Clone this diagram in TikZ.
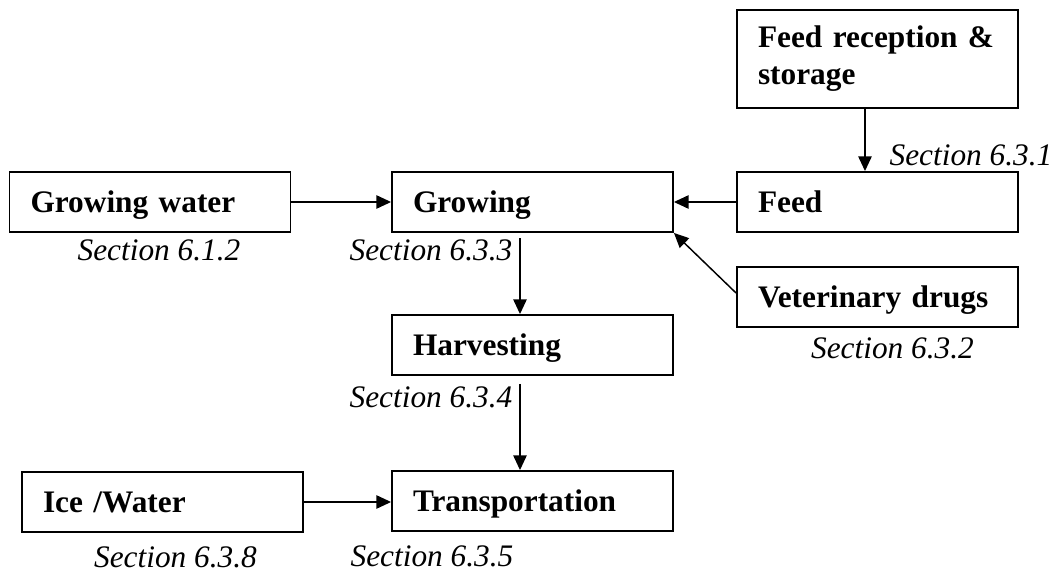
\documentclass[tikz,border=0pt]{standalone}
\usepackage{fontspec}
\setmainfont{Liberation Serif}
\usetikzlibrary{arrows.meta,calc}
\begin{document}
\begin{tikzpicture}[x=0.75pt,y=-0.75pt,
  stepbox/.style={draw=black,line width=1.4pt,minimum height=45pt,
    text width=179.25pt,inner xsep=15.75pt,align=left,
    text height=19.6pt,text depth=4.1pt,
    font=\bfseries\fontsize{23.5}{27.75}\selectfont},
  seclabel/.style={inner sep=0pt,font=\itshape\fontsize{23.5}{27.75}\selectfont},
  arr/.style={line width=1.1pt,-{Triangle[length=11pt,width=10pt]}}]
\useasboundingbox (0,0) rectangle (1058,574);
% boxes
\node[stepbox,minimum height=73.5pt,text height=,text depth=] (fr) at (877.5,59) {\mbox{Feed reception \&}\\storage};
\node[stepbox] (gw) at (150,202) {Growing water};
\node[stepbox] (grow) at (532.5,202) {Growing};
\node[stepbox] (feed) at (877.5,202) {Feed};
\node[stepbox] (vet) at (877.5,297) {Veterinary drugs};
\node[stepbox] (harv) at (532.5,345) {Harvesting};
\node[stepbox] (trans) at (532.5,501) {Transportation};
\node[stepbox] (ice) at (162.5,502) {Ice /Water};
% section labels
\node[seclabel] (s631) at (971,155) {Section 6.3.1};
\node[seclabel] (s612) at (159,250) {Section 6.1.2};
\node[seclabel] (s633) at (431,250) {Section 6.3.3};
\node[seclabel] (s632) at (892.5,348) {Section 6.3.2};
\node[seclabel] (s634) at (431,397) {Section 6.3.4};
\node[seclabel] (s638) at (175.5,557) {Section 6.3.8};
\node[seclabel] (s635) at (432,556) {Section 6.3.5};
% guide coordinates
\coordinate (cf) at (865,0);
\coordinate (cv) at (520,0);
% connectors
\draw[arr] (fr.south -| cf) -- (feed.north -| cf);
\draw[arr] (gw.east) -- (grow.west);
\draw[arr] (feed.west) -- (grow.east);
\draw[arr] ([yshift=3pt]vet.west) -- (grow.south east);
\draw[arr,shorten <=4pt] (grow.south -| cv) -- (harv.north -| cv);
\draw[arr,shorten <=6pt] (harv.south -| cv) -- (trans.north -| cv);
\draw[arr] (ice.east) -- (ice.east -| trans.west);
\end{tikzpicture}
\end{document}
